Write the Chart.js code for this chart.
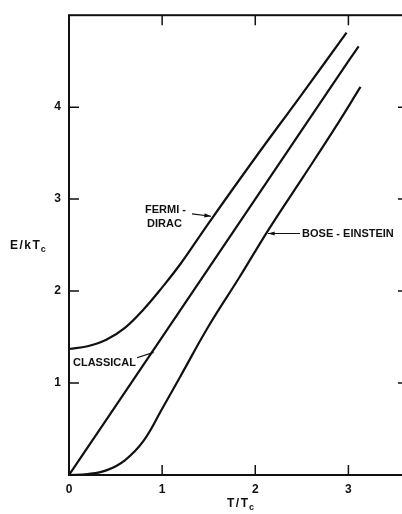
<!DOCTYPE html>
<html>
<head>
<meta charset="utf-8">
<script src="https://cdn.jsdelivr.net/npm/chart.js@4.4.0/dist/chart.umd.min.js"></script>
<style>
html, body { margin: 0; padding: 0; background: #fff; overflow: hidden; }
#wrap { width: 402px; height: 514px; overflow: hidden; }
</style>
</head>
<body>
<div id="wrap"><canvas id="chart" width="412" height="514"></canvas></div>
<script>
// values (T/Tc, E/kTc)
const tFermi = [0, 0.2, 0.4, 0.6, 0.8, 1.0, 1.2, 1.5, 2.0, 2.5, 2.98];
const eFermi = [1.37, 1.40, 1.47, 1.60, 1.80, 2.04, 2.30, 2.74, 3.45, 4.14, 4.81];

const tClassical = [0, 1, 2, 3, 3.11];
const eClassical = [0, 1.5, 3.0, 4.5, 4.66];

const tBose = [0, 0.2, 0.4, 0.6, 0.8, 1.0, 1.2, 1.5, 1.83, 2.15, 2.52, 2.86, 3.13];
const eBose = [0, 0.01, 0.05, 0.16, 0.37, 0.72, 1.08, 1.62, 2.15, 2.68, 3.25, 3.78, 4.22];

const xTicks = [0, 1, 2, 3];
const yTicks = [1, 2, 3, 4];

const INK = '#111';
const FAMILY = '"Liberation Sans", Arial, sans-serif';

function points(xs, ys) {
    return xs.map((x, i) => ({x: x, y: ys[i]}));
}

function curve(label, xs, ys) {
    return {
        label: label,
        data: points(xs, ys),
        showLine: true,
        borderColor: INK,
        borderWidth: 2.2,
        pointRadius: 0,
        fill: false,
        tension: 0.4,
    };
}

function arrow(ctx, x1, y1, x2, y2, head) {
    ctx.beginPath();
    ctx.moveTo(x1, y1);
    ctx.lineTo(x2, y2);
    ctx.stroke();
    if (!head) return;
    let a = Math.atan2(y2 - y1, x2 - x1);
    ctx.beginPath();
    ctx.moveTo(x2, y2);
    ctx.lineTo(x2 - 7 * Math.cos(a - 0.3), y2 - 7 * Math.sin(a - 0.3));
    ctx.lineTo(x2 - 7 * Math.cos(a + 0.3), y2 - 7 * Math.sin(a + 0.3));
    ctx.closePath();
    ctx.fill();
}

// text with a lowered small "c" after it
function subTitle(ctx, main, x, y) {
    ctx.font = 'bold 12px ' + FAMILY;
    ctx.letterSpacing = '1.5px';
    ctx.fillText(main, x, y);
    let w = ctx.measureText(main).width;
    ctx.font = 'bold 9px ' + FAMILY;
    ctx.letterSpacing = '0px';
    ctx.fillText('c', x + w - 0.5, y + 3);
}

// frame, inward ticks, axis titles and curve labels
const decorations = {
    id: 'decorations',
    afterDraw(chart) {
        const ctx = chart.ctx;
        const area = chart.chartArea;
        const sx = chart.scales.x;
        const sy = chart.scales.y;
        const px = v => sx.getPixelForValue(v);
        const py = v => sy.getPixelForValue(v);

        ctx.save();
        ctx.strokeStyle = INK;
        ctx.fillStyle = INK;
        ctx.lineWidth = 2;
        ctx.strokeRect(area.left, area.top, area.right - area.left, area.bottom - area.top);

        ctx.lineWidth = 1.5;
        xTicks.slice(1).forEach(v => {
            ctx.beginPath();
            ctx.moveTo(px(v), area.bottom);
            ctx.lineTo(px(v), area.bottom - 10);
            ctx.moveTo(px(v), area.top);
            ctx.lineTo(px(v), area.top + 10);
            ctx.stroke();
        });
        yTicks.forEach(v => {
            ctx.beginPath();
            ctx.moveTo(area.left, py(v));
            ctx.lineTo(area.left + 10, py(v));
            ctx.moveTo(area.right, py(v));
            ctx.lineTo(area.right - 10, py(v));
            ctx.stroke();
        });

        ctx.textBaseline = 'alphabetic';
        ctx.textAlign = 'left';
        subTitle(ctx, 'T/T', 227, 507);
        subTitle(ctx, 'E/kT', 10, 249);

        // curve labels
        ctx.font = 'bold 11px ' + FAMILY;
        ctx.textBaseline = 'middle';
        ctx.fillText('FERMI -', px(0.816), py(2.883));
        ctx.fillText('DIRAC', px(0.838), py(2.733));
        ctx.fillText('BOSE - EINSTEIN', px(2.503), py(2.626));
        ctx.fillText('CLASSICAL', px(0.043), py(1.222));

        ctx.lineWidth = 1.2;
        arrow(ctx, px(1.321), py(2.84), px(1.525), py(2.814), true);
        arrow(ctx, px(2.481), py(2.626), px(2.137), py(2.626), true);
        arrow(ctx, px(0.73), py(1.275), px(0.908), py(1.334), false);
        ctx.restore();
    }
};

const tickFont = {family: FAMILY, size: 12, weight: 'bold'};

const ctx = document.getElementById('chart').getContext('2d');
const chart = new Chart(ctx, {
    type: 'scatter',
    data: {
        datasets: [
            curve('Fermi-Dirac', tFermi, eFermi),
            curve('Classical', tClassical, eClassical),
            curve('Bose-Einstein', tBose, eBose),
        ]
    },
    options: {
        responsive: false,
        animation: false,
        events: [],
        layout: {padding: {top: 9, right: 4, left: 0, bottom: 0}},
        plugins: {
            legend: {display: false},
            tooltip: {enabled: false},
        },
        scales: {
            x: {
                type: 'linear',
                min: 0,
                max: 3.64,
                grid: {display: false, drawTicks: false},
                border: {display: false},
                afterBuildTicks: scale => {
                    scale.ticks = xTicks.map(v => ({value: v}));
                },
                afterFit: scale => { scale.height = 39; },
                ticks: {color: INK, padding: 7, font: tickFont},
            },
            y: {
                type: 'linear',
                min: 0,
                max: 5,
                grid: {display: false, drawTicks: false},
                border: {display: false},
                afterBuildTicks: scale => {
                    scale.ticks = yTicks.map(v => ({value: v}));
                },
                afterFit: scale => { scale.width = 69; },
                ticks: {color: INK, padding: 8, font: tickFont},
            },
        },
    },
    plugins: [decorations],
});
</script>
</body>
</html>
